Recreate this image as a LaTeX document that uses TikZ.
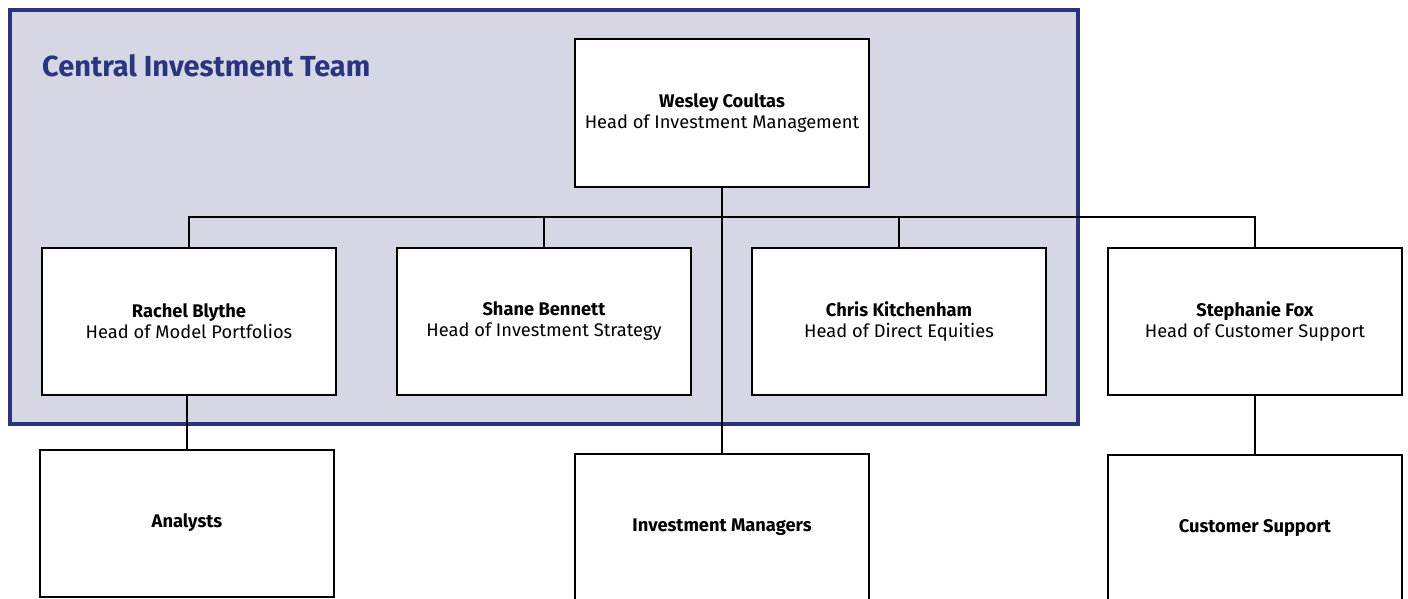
\documentclass[tikz,border=0pt]{standalone}
\usepackage{fontspec}
\setmainfont{Fira Sans}
\definecolor{navy}{HTML}{2B357F}
\definecolor{teamfill}{HTML}{D5D7E5}
\tikzset{
  person/.style={draw=black, line width=2pt, fill=white, minimum width=294pt, minimum height=147pt, align=center, font=\fontsize{18.3}{21}\selectfont, inner sep=0pt},
  group/.style={person},
  link/.style={draw=black, line width=2pt},
}
\begin{document}
\begin{tikzpicture}[x=1pt,y=-1pt]
\useasboundingbox (0,0) rectangle (1408,599);
\begin{scope}
\clip (0,0) rectangle (1408,599);
\node[draw=navy, line width=4pt, fill=teamfill, minimum width=1068pt, minimum height=414pt, inner sep=0pt] (team) at (544,217) {};
\node[anchor=base west, text=navy, font=\fontsize{29}{34}\selectfont\bfseries, inner sep=0pt] (title) at (42,77) {Central Investment Team};
\node[person] (wesley) at (722,113) {\textbf{Wesley Coultas}\\Head of Investment Management};
\node[person] (rachel) at (189,321.5) {\textbf{Rachel Blythe}\\Head of Model Portfolios};
\node[person] (shane) at (544,321.5) {\textbf{Shane Bennett}\\Head of Investment Strategy};
\node[person] (chris) at (899,321.5) {\textbf{Chris Kitchenham}\\Head of Direct Equities};
\node[person] (steph) at (1255,321.5) {\textbf{Stephanie Fox}\\Head of Customer Support};
\node[group] (analysts) at (187,523) {\textbf{Analysts}};
\node[group] (invman) at (722,527) {\textbf{Investment Managers}};
\node[group] (custsup) at (1255,528) {\textbf{Customer Support}};
\coordinate (bus) at (722,217);
\draw[link] (wesley.south) -- (invman.north);
\draw[link] (rachel.north) |- (bus) -| (steph.north);
\draw[link] (shane.north) -- (shane.north |- bus);
\draw[link] (chris.north) -- (chris.north |- bus);
\draw[link] (analysts.north |- rachel.south) -- (analysts.north);
\draw[link] (steph.south) -- (custsup.north);
\end{scope}
\end{tikzpicture}
\end{document}
